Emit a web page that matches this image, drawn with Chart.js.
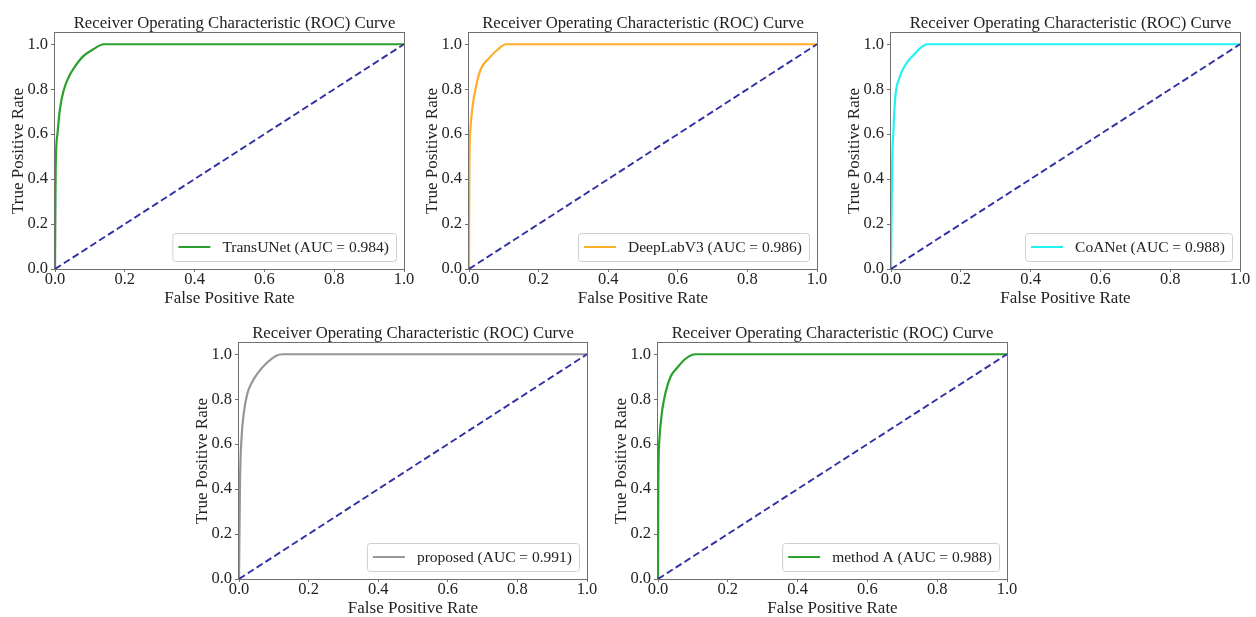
<!DOCTYPE html>
<html><head><meta charset="utf-8">
<script src="https://cdn.jsdelivr.net/npm/chart.js@4.4.0/dist/chart.umd.min.js"></script>
<style>
html,body{margin:0;padding:0;background:#fff;overflow:hidden;width:1256px;height:617px;position:relative;}
canvas{position:absolute;}
</style></head><body>
<script>
// ---------- data ----------
const chartTitle = "Receiver Operating Characteristic (ROC) Curve";
const xAxisLabel = "False Positive Rate";
const yAxisLabel = "True Positive Rate";
const tickStep = 0.2;

const methodNames = ["TransUNet", "DeepLabV3", "CoANet", "proposed", "method A"];
const aucValues = [0.984, 0.986, 0.988, 0.991, 0.988];

const fprTransUNet = [0, 0.002, 0.007, 0.014, 0.024, 0.038, 0.057, 0.081, 0.110, 0.140, 1.0];
const tprTransUNet = [0, 0.45, 0.60, 0.71, 0.79, 0.85, 0.90, 0.947, 0.978, 1.0, 1.0];

const fprDeepLab = [0, 0.001, 0.004, 0.010, 0.022, 0.034, 0.057, 0.085, 0.106, 1.0];
const tprDeepLab = [0, 0.44, 0.62, 0.72, 0.825, 0.89, 0.937, 0.98, 1.0, 1.0];

const fprCoANet = [0, 0.003, 0.007, 0.012, 0.024, 0.042, 0.068, 0.090, 0.102, 1.0];
const tprCoANet = [0, 0.44, 0.62, 0.76, 0.85, 0.91, 0.958, 0.99, 1.0, 1.0];

const fprProposed = [0, 0.003, 0.007, 0.014, 0.024, 0.038, 0.055, 0.081, 0.107, 0.126, 1.0];
const tprProposed = [0, 0.44, 0.62, 0.74, 0.825, 0.877, 0.918, 0.963, 0.993, 1.0, 1.0];

const fprMethodA = [0, 0.001, 0.004, 0.012, 0.022, 0.036, 0.055, 0.079, 0.098, 0.108, 1.0];
const tprMethodA = [0, 0.44, 0.62, 0.75, 0.832, 0.90, 0.94, 0.98, 0.998, 1.0, 1.0];

const diagonalFpr = [0, 1];
const diagonalTpr = [0, 1];

// ---------- styling / layout ----------
const curveColors = ["#2ca02c", "#ffad2a", "#22f2f2", "#969696", "#2ca02c"];
const fprSets = [fprTransUNet, fprDeepLab, fprCoANet, fprProposed, fprMethodA];
const tprSets = [tprTransUNet, tprDeepLab, tprCoANet, tprProposed, tprMethodA];
// plot-area left/top/width, right margin, title x shift
const plotBoxes = [
  [55, 33, 349, 16, 5], [469, 33, 348, 25, 0], [891, 33, 349, 25, 5],
  [239, 343, 348, 25, 0], [658, 343, 349, 25, 0]
];
const PH = 236, YW = 55, XH = 40, TOP = 33;
const FONT = '"Liberation Serif", "Times New Roman", Times, serif';
const TXT = '#222';
const FRAME = '#707070';

const decor = {
  id: 'decor',
  afterDraw(chart, args, opts) {
    const {ctx, chartArea: a} = chart;
    ctx.save();
    // frame
    ctx.strokeStyle = FRAME; ctx.lineWidth = 1;
    ctx.strokeRect(Math.round(a.left) - 0.5, Math.round(a.top) - 0.5,
                   Math.round(a.right - a.left) + 1, Math.round(a.bottom - a.top) + 1);
    // title
    ctx.fillStyle = TXT;
    ctx.font = '16.7px ' + FONT;
    ctx.textAlign = 'center'; ctx.textBaseline = 'alphabetic';
    ctx.fillText(chartTitle, (a.left + a.right) / 2 + (opts.shift || 0), a.top - 5);
    // legend
    const ds = chart.data.datasets[0];
    ctx.font = '15.5px ' + FONT;
    const tw = ctx.measureText(ds.label).width;
    const h = 28, w = 6 + 32 + 12 + tw + 7;
    const x = a.right - 8 - w, y = a.bottom - 8 - h;
    ctx.beginPath();
    if (ctx.roundRect) ctx.roundRect(x + 0.5, y + 0.5, w, h, 3); else ctx.rect(x + 0.5, y + 0.5, w, h);
    ctx.fillStyle = 'rgba(255,255,255,0.8)'; ctx.fill();
    ctx.strokeStyle = '#cfcfcf'; ctx.lineWidth = 1; ctx.stroke();
    ctx.beginPath();
    ctx.moveTo(x + 6, y + h / 2); ctx.lineTo(x + 38, y + h / 2);
    ctx.strokeStyle = ds.borderColor; ctx.lineWidth = 2.2; ctx.stroke();
    ctx.fillStyle = TXT; ctx.textAlign = 'left'; ctx.textBaseline = 'middle';
    ctx.fillText(ds.label, x + 50, y + h / 2 + 0.5);
    ctx.restore();
  }
};

function makeChart(i) {
  const [pl, pt, pw, rightPad, titleShift] = plotBoxes[i];
  const cv = document.createElement('canvas');
  const W = YW + pw + rightPad, H = TOP + PH + XH;
  cv.width = W; cv.height = H;
  cv.style.left = (pl - YW) + 'px'; cv.style.top = (pt - TOP) + 'px';
  cv.style.width = W + 'px'; cv.style.height = H + 'px';
  document.body.appendChild(cv);
  const roc = fprSets[i].map((v, k) => ({x: v, y: tprSets[i][k]}));
  const diag = diagonalFpr.map((v, k) => ({x: v, y: diagonalTpr[k]}));
  new Chart(cv, {
    type: 'scatter',
    data: {
      datasets: [
        {label: `${methodNames[i]} (AUC = ${aucValues[i].toFixed(3)})`, data: roc,
         showLine: true, borderColor: curveColors[i], borderWidth: 2.2, pointRadius: 0,
         cubicInterpolationMode: 'monotone', order: 1, fill: false},
        {label: 'diag', data: diag, showLine: true, borderColor: '#3030a4', borderWidth: 1.9,
         borderDash: [7, 3.5], pointRadius: 0, order: 0, fill: false}
      ]
    },
    options: {
      responsive: false, animation: false, devicePixelRatio: 1,
      layout: {padding: {left: 0, top: TOP, right: rightPad, bottom: 0}},
      plugins: {legend: {display: false}, tooltip: {enabled: false}, title: {display: false},
                decor: {shift: titleShift}},
      scales: {
        x: {
          type: 'linear', min: 0, max: 1,
          afterFit(s) { s.height = XH; },
          ticks: {stepSize: tickStep, callback: v => Number(v).toFixed(1), maxRotation: 0, autoSkip: false,
                  font: {family: FONT, size: 16.5, lineHeight: 1}, color: TXT, padding: -1},
          grid: {display: true, drawOnChartArea: false, drawTicks: true, tickLength: 3, color: FRAME},
          border: {display: false},
          title: {display: true, text: xAxisLabel, color: TXT,
                  font: {family: FONT, size: 17, lineHeight: 1.2}, padding: {top: 0, bottom: 0.3}}
        },
        y: {
          type: 'linear', min: 0, max: 1.05,
          afterFit(s) { s.width = YW; },
          ticks: {stepSize: tickStep, includeBounds: false, callback: v => Number(v).toFixed(1),
                  font: {family: FONT, size: 16.5, lineHeight: 1}, color: TXT, padding: 3},
          grid: {display: true, drawOnChartArea: false, drawTicks: true, tickLength: 4, color: FRAME},
          border: {display: false},
          title: {display: true, text: yAxisLabel, color: TXT,
                  font: {family: FONT, size: 17, lineHeight: 1.2}, padding: {top: 8, bottom: 0}}
        }
      }
    },
    plugins: [decor]
  });
}
for (let i = 0; i < 5; i++) makeChart(i);
</script>
</body></html>
